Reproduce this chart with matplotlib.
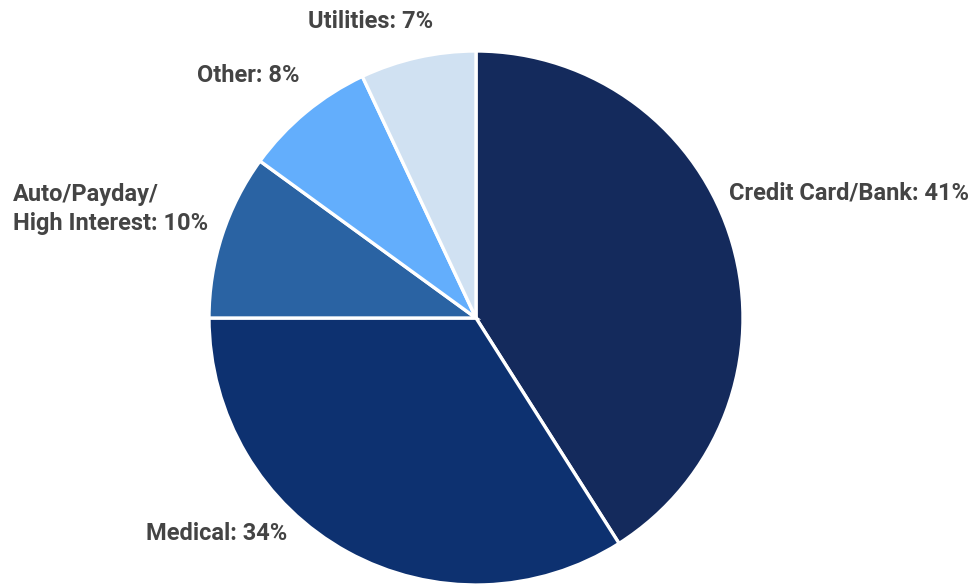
import matplotlib
matplotlib.use("Agg")
import matplotlib.pyplot as plt

categories = ["Credit Card/Bank", "Medical", "Auto/Payday/\nHigh Interest", "Other", "Utilities"]
shares = [41, 34, 10, 8, 7]
colors = ["#142a5c", "#0d3170", "#2a63a3", "#63aefc", "#d0e1f2"]

# label anchors in pixel space (x, y from top) and horizontal alignment
label_pos = [(729, 193, "left"), (287, 533, "right"), (208, 209, "right"),
             (299, 75, "right"), (433, 22, "right")]

W, H = 972, 584
fig = plt.figure(figsize=(W / 100, H / 100), dpi=100)
ax = fig.add_axes([0, 0, 1, 1])
ax.set_xlim(0, W)
ax.set_ylim(0, H)
ax.set_aspect("equal")
ax.axis("off")

ax.pie(shares, colors=colors, startangle=90, counterclock=False,
       center=(476, H - 318), radius=267,
       wedgeprops=dict(edgecolor="white", linewidth=2.4))
ax.set_xlim(0, W)
ax.set_ylim(0, H)

for name, val, (x, y, ha) in zip(categories, shares, label_pos):
    ax.text(x, H - y, f"{name}: {val}%", ha=ha, va="center", multialignment="left",
            fontsize=17, fontweight="bold", color="#444444",
            family=["Roboto", "DejaVu Sans"], linespacing=1.38)

fig.savefig("out.png", dpi=100, facecolor="white")
